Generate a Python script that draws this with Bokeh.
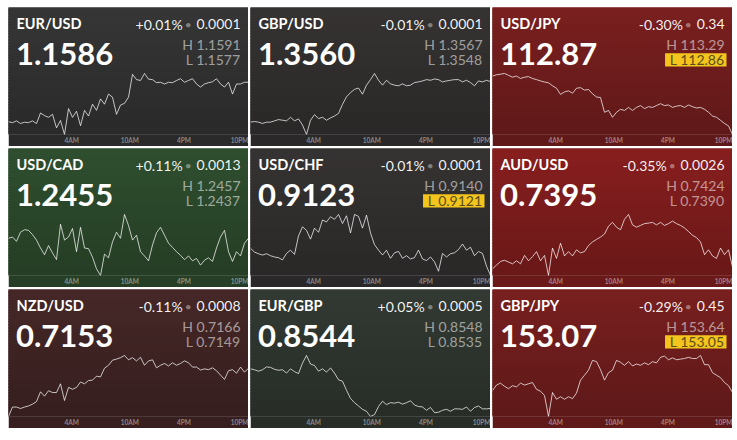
from bokeh.plotting import figure
from bokeh.models import Range1d, Label, BoxAnnotation, FixedTicker, GridPlot
from bokeh.embed import file_html
from bokeh.resources import INLINE

# ---------------- data ----------------
PAIRS = ["EUR/USD", "GBP/USD", "USD/JPY", "USD/CAD", "USD/CHF", "AUD/USD", "NZD/USD", "EUR/GBP", "GBP/JPY"]
LAST = ["1.1586", "1.3560", "112.87", "1.2455", "0.9123", "0.7395", "0.7153", "0.8544", "153.07"]
CHG_PCT = ["+0.01%", "-0.01%", "-0.30%", "+0.11%", "-0.01%", "-0.35%", "-0.11%", "+0.05%", "-0.29%"]
CHG_ABS = ["0.0001", "0.0001", "0.34", "0.0013", "0.0001", "0.0026", "0.0008", "0.0005", "0.45"]
HIGH = ["1.1591", "1.3567", "113.29", "1.2457", "0.9140", "0.7424", "0.7166", "0.8548", "153.64"]
LOW = ["1.1577", "1.3548", "112.86", "1.2437", "0.9121", "0.7390", "0.7149", "0.8535", "153.05"]
NEW_LOW = [False, False, True, False, True, False, False, False, True]
TICK_HOURS = [6, 12, 18, 24]          # hours after 10PM of the previous day
TICK_LABELS = ["4AM", "10AM", "4PM", "10PM"]
X_END = 25.6                          # hours shown in each sparkline

eurusd = [1.15799, 1.15797, 1.15801, 1.15795, 1.15798, 1.15797, 1.15801, 1.15795, 1.15819, 1.15813,
          1.15809, 1.15816, 1.15785, 1.15802, 1.15770, 1.15829, 1.15809, 1.15823, 1.15790, 1.15825,
          1.15812, 1.15839, 1.15825, 1.15851, 1.15839, 1.15862, 1.15855, 1.15816, 1.15837, 1.15841,
          1.15855, 1.15907, 1.15895, 1.15893, 1.15909, 1.15896, 1.15895, 1.15888, 1.15889, 1.15885,
          1.15889, 1.15888, 1.15893, 1.15897, 1.15889, 1.15893, 1.15897, 1.15885, 1.15878, 1.15885,
          1.15888, 1.15890, 1.15897, 1.15885, 1.15878, 1.15889, 1.15862, 1.15885, 1.15885, 1.15889,
          1.15889]
gbpusd = [1.35518, 1.35520, 1.35518, 1.35514, 1.35518, 1.35518, 1.35522, 1.35526, 1.35524, 1.35522,
          1.35533, 1.35522, 1.35528, 1.35509, 1.35480, 1.35524, 1.35541, 1.35529, 1.35533, 1.35524,
          1.35531, 1.35537, 1.35545, 1.35573, 1.35596, 1.35609, 1.35619, 1.35623, 1.35604, 1.35632,
          1.35649, 1.35668, 1.35647, 1.35632, 1.35647, 1.35636, 1.35632, 1.35630, 1.35636, 1.35630,
          1.35632, 1.35640, 1.35642, 1.35645, 1.35649, 1.35647, 1.35651, 1.35649, 1.35642, 1.35645,
          1.35647, 1.35649, 1.35649, 1.35642, 1.35647, 1.35640, 1.35630, 1.35645, 1.35642, 1.35647,
          1.35643]
usdjpy = [113.268, 113.277, 113.281, 113.286, 113.273, 113.260, 113.268, 113.251, 113.260, 113.264,
          113.251, 113.243, 113.234, 113.226, 113.221, 113.200, 113.183, 113.140, 113.157, 113.165,
          113.148, 113.183, 113.187, 113.170, 113.174, 113.144, 113.122, 113.118, 113.015, 113.028,
          112.980, 113.015, 113.036, 113.028, 113.049, 113.028, 113.049, 113.062, 113.041, 113.054,
          113.049, 113.062, 113.075, 113.062, 113.066, 113.049, 113.058, 113.062, 113.049, 113.066,
          113.054, 113.045, 113.049, 113.036, 113.015, 112.989, 112.980, 112.959, 112.937, 112.920,
          112.860]
usdcad = [1.24492, 1.24496, 1.24482, 1.24512, 1.24520, 1.24518, 1.24504, 1.24486, 1.24460, 1.24438,
          1.24468, 1.24444, 1.24422, 1.24538, 1.24486, 1.24496, 1.24524, 1.24448, 1.24528, 1.24460,
          1.24458, 1.24430, 1.24392, 1.24370, 1.24440, 1.24428, 1.24480, 1.24512, 1.24492, 1.24570,
          1.24534, 1.24486, 1.24502, 1.24448, 1.24434, 1.24418, 1.24470, 1.24510, 1.24528, 1.24502,
          1.24476, 1.24462, 1.24448, 1.24436, 1.24422, 1.24434, 1.24418, 1.24426, 1.24404, 1.24420,
          1.24428, 1.24416, 1.24460, 1.24496, 1.24518, 1.24448, 1.24416, 1.24448, 1.24434, 1.24476,
          1.24492]
usdchf = [0.91294, 0.91282, 0.91277, 0.91273, 0.91277, 0.91271, 0.91267, 0.91265, 0.91258, 0.91278,
          0.91288, 0.91275, 0.91332, 0.91360, 0.91349, 0.91322, 0.91356, 0.91343, 0.91381, 0.91375,
          0.91391, 0.91383, 0.91398, 0.91370, 0.91394, 0.91341, 0.91398, 0.91392, 0.91356, 0.91396,
          0.91341, 0.91305, 0.91288, 0.91273, 0.91288, 0.91263, 0.91280, 0.91284, 0.91263, 0.91271,
          0.91261, 0.91265, 0.91288, 0.91261, 0.91256, 0.91267, 0.91252, 0.91223, 0.91278, 0.91267,
          0.91277, 0.91280, 0.91290, 0.91307, 0.91288, 0.91297, 0.91271, 0.91284, 0.91278, 0.91239,
          0.91210]
audusd = [0.73937, 0.73958, 0.73978, 0.73985, 0.73975, 0.73965, 0.73982, 0.73965, 0.74012, 0.73982,
          0.74005, 0.74033, 0.73982, 0.74012, 0.73900, 0.74053, 0.73995, 0.74080, 0.74009, 0.74033,
          0.74009, 0.74043, 0.74026, 0.74033, 0.74067, 0.74087, 0.74101, 0.74114, 0.74131, 0.74175,
          0.74196, 0.74169, 0.74155, 0.74213, 0.74240, 0.74182, 0.74169, 0.74179, 0.74189, 0.74192,
          0.74196, 0.74182, 0.74196, 0.74179, 0.74189, 0.74203, 0.74189, 0.74179, 0.74165, 0.74145,
          0.74124, 0.74111, 0.74087, 0.74016, 0.74043, 0.74009, 0.73995, 0.74053, 0.74016, 0.74043,
          0.73948]
nzdusd = [0.71490, 0.71516, 0.71516, 0.71512, 0.71516, 0.71519, 0.71524, 0.71531, 0.71558, 0.71546,
          0.71561, 0.71556, 0.71556, 0.71580, 0.71534, 0.71570, 0.71565, 0.71570, 0.71585, 0.71580,
          0.71589, 0.71590, 0.71601, 0.71599, 0.71623, 0.71631, 0.71645, 0.71648, 0.71652, 0.71658,
          0.71646, 0.71652, 0.71643, 0.71653, 0.71631, 0.71643, 0.71646, 0.71624, 0.71631, 0.71636,
          0.71629, 0.71638, 0.71631, 0.71636, 0.71643, 0.71638, 0.71626, 0.71626, 0.71618, 0.71621,
          0.71619, 0.71624, 0.71616, 0.71604, 0.71592, 0.71616, 0.71619, 0.71609, 0.71626, 0.71612,
          0.71623]
eurgbp = [0.85451, 0.85449, 0.85446, 0.85449, 0.85455, 0.85454, 0.85450, 0.85448, 0.85449, 0.85442,
          0.85451, 0.85445, 0.85441, 0.85463, 0.85479, 0.85461, 0.85458, 0.85446, 0.85451, 0.85444,
          0.85453, 0.85442, 0.85428, 0.85425, 0.85406, 0.85389, 0.85380, 0.85373, 0.85366, 0.85362,
          0.85351, 0.85355, 0.85372, 0.85383, 0.85376, 0.85380, 0.85379, 0.85381, 0.85377, 0.85380,
          0.85384, 0.85375, 0.85372, 0.85371, 0.85364, 0.85370, 0.85359, 0.85360, 0.85364, 0.85366,
          0.85362, 0.85367, 0.85367, 0.85366, 0.85371, 0.85362, 0.85370, 0.85373, 0.85367, 0.85367,
          0.85368]
gbpjpy = [153.298, 153.351, 153.369, 153.339, 153.316, 153.345, 153.333, 153.369, 153.351, 153.363,
          153.375, 153.310, 153.292, 153.251, 153.050, 153.280, 153.215, 153.239, 153.215, 153.239,
          153.221, 153.274, 153.398, 153.445, 153.493, 153.587, 153.575, 153.498, 153.398, 153.469,
          153.493, 153.587, 153.569, 153.540, 153.575, 153.534, 153.552, 153.540, 153.563, 153.546,
          153.575, 153.563, 153.616, 153.628, 153.593, 153.611, 153.593, 153.599, 153.605, 153.616,
          153.605, 153.605, 153.634, 153.546, 153.546, 153.469, 153.445, 153.422, 153.375, 153.345,
          153.280]
SERIES = [eurusd, gbpusd, usdjpy, usdcad, usdchf, audusd, nzdusd, eurgbp, gbpjpy]

# ---------------- style ----------------
BG = ["#2f302f", "#302d2d", "#6d1c1c", "#2a462a", "#302d2d", "#791b1b", "#3e2323", "#2d332d", "#6c1c1c"]
FONT = "Lato"
TILE_W, TILE_H, AXIS_H = 240, 139, 10
FRAME_H = TILE_H - AXIS_H
LINE_TOP = 67          # pixel row (from tile top) of the sparkline maximum
RIGHT = 232            # right edge of right-aligned texts
TICK_SIZE = 6.5
ADV = {".": 0.235, " ": 0.193, "H": 0.745, "L": 0.49, "%": 0.8, "+": 0.58, "-": 0.333,
       "A": 0.68, "M": 0.86, "P": 0.6}


def tw(s, size):
    return sum(ADV.get(c, 0.58) for c in s) * size


def shade(hexc, f):
    r, g, b = (int(hexc[i:i + 2], 16) for i in (1, 3, 5))
    return "#%02x%02x%02x" % tuple(max(0, min(255, round(v * f))) for v in (r, g, b))


PX_PER_HOUR = TILE_W / X_END
# each label starts at its hour, so its centre sits half a label width further right
TICK_POS = [h + tw(t, TICK_SIZE) / 2 / PX_PER_HOUR for h, t in zip(TICK_HOURS, TICK_LABELS)]


def tile(i):
    s = SERIES[i]
    n = len(s)
    times = [X_END * k / (n - 1) for k in range(n)]
    lo, hi = min(s), max(s)
    top = lo + (hi - lo) * FRAME_H / (FRAME_H - LINE_TOP)
    p = figure(width=TILE_W, height=TILE_H, x_range=Range1d(0, X_END), y_range=Range1d(lo, top),
               output_backend="svg", toolbar_location=None, tools="", min_border=0,
               min_border_bottom=AXIS_H, y_axis_location=None)
    p.extra_x_ranges = {"px": Range1d(0, TILE_W)}
    p.extra_y_ranges = {"py": Range1d(FRAME_H, 0)}
    p.outline_line_color = None
    p.xgrid.visible = False
    p.ygrid.visible = False
    base = BG[i]
    bottom_col = shade(base, 0.88)
    p.background_fill_color = bottom_col
    p.border_fill_color = bottom_col

    # vertical gradient background
    nstrip = 43
    step = FRAME_H / nstrip
    tops = [k * step - 1 for k in range(nstrip)]
    bots = [(k + 1) * step + 1 for k in range(nstrip)]
    cols = [shade(base, 1.12 - 0.24 * k / (nstrip - 1)) for k in range(nstrip)]
    p.quad(left=-2, right=TILE_W + 2, top=tops, bottom=bots, fill_color=cols, line_color=None,
           x_range_name="px", y_range_name="py")

    p.line(times, s, line_color="white", line_alpha=0.72, line_width=1)

    ax = p.xaxis[0]
    ax.ticker = FixedTicker(ticks=TICK_POS)
    ax.major_label_overrides = {pos: t for pos, t in zip(TICK_POS, TICK_LABELS)}
    ax.axis_line_color = None
    ax.major_tick_line_color = None
    ax.minor_tick_line_color = None
    ax.major_tick_out = 0
    ax.major_tick_in = 0
    ax.minor_tick_out = 0
    ax.minor_tick_in = 0
    ax.major_label_standoff = 2
    ax.major_label_text_font = FONT
    ax.major_label_text_font_size = "%spx" % TICK_SIZE
    ax.major_label_text_font_style = "bold"
    ax.major_label_text_color = "white"
    ax.major_label_text_alpha = 0.45

    def lab(x, y, text, size, color="white", alpha=1.0, bold=False, align="left"):
        p.add_layout(Label(x=x, y=y, x_range_name="px", y_range_name="py", text=text,
                           text_font=FONT, text_font_size="%spx" % size,
                           text_font_style="bold" if bold else "normal",
                           text_color=color, text_alpha=alpha, text_align=align,
                           text_baseline="middle"))

    # y = vertical centre of the text's capitals (pixels from tile top)
    lab(8, 16.5, PAIRS[i], 14.5, bold=True)
    lab(7.5, 47, LAST[i], 31, bold=True)

    vl = RIGHT - tw(CHG_ABS[i], 14)
    lab(RIGHT, 17, CHG_ABS[i], 14, alpha=0.95, align="right")
    lab(vl - 8.5, 17, "\u2022", 12, alpha=0.4, align="center")
    lab(vl - 14, 17, CHG_PCT[i], 14, alpha=0.95, align="right")

    lab(RIGHT, 37.5, "H " + HIGH[i], 14, alpha=0.55, align="right")
    ltxt = "L " + LOW[i]
    if NEW_LOW[i]:
        w = tw(ltxt, 14)
        p.add_layout(BoxAnnotation(left=RIGHT - w - 6, right=RIGHT + 2, top=46.5, bottom=60,
                                   x_range_name="px", y_range_name="py",
                                   fill_color="#f4c51c", fill_alpha=1.0, line_color=None))
        lab(RIGHT, 53, ltxt, 14, color="#5a4e1e", alpha=1.0, align="right")
    else:
        lab(RIGHT, 53, ltxt, 14, alpha=0.55, align="right")
    return p


figs = [tile(i) for i in range(9)]
grid = GridPlot(children=[(f, k // 3, k % 3) for k, f in enumerate(figs)], spacing=2,
                toolbar_location=None, margin=(7, 0, 0, 8))

open("out.html", "w").write(file_html(grid, INLINE))
